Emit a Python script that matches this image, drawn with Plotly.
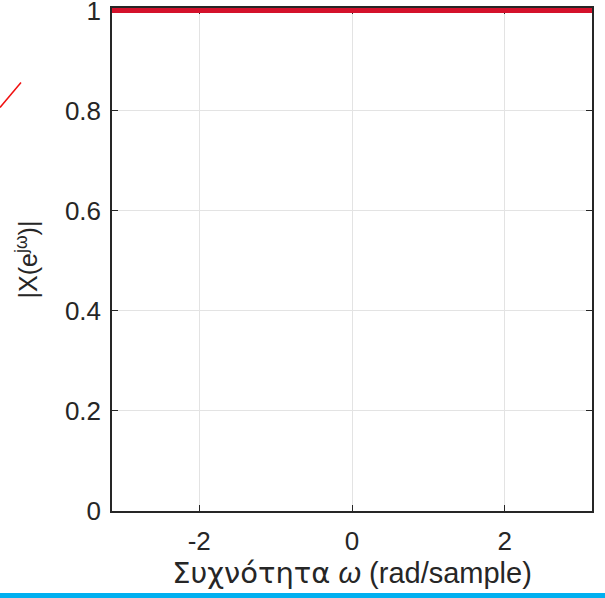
import numpy as np
import plotly.graph_objects as go

# Magnitude response of a unit impulse: flat at 1 across -pi..pi
omega = [-np.pi, np.pi]
magnitude = [1.0, 1.0]

x_ticks = [-2, 0, 2]
y_ticks = [0, 0.2, 0.4, 0.6, 0.8, 1]
y_tick_text = ["0", "0.2", "0.4", "0.6", "0.8", "1"]

W, H = 605, 598
ML, MR, MT, MB = 112, 13, 7.5, 87
PW, PH = W - ML - MR, H - MT - MB
# small headroom so the thick trace at 1 is not clipped by the frame
Y_TOP = 1.005

FONT = "Liberation Sans, Arial, sans-serif"
AX = "#262626"

fig = go.Figure()
fig.add_trace(go.Scatter(
    x=omega, y=magnitude, mode="lines",
    line=dict(color="#d4112b", width=5),
    showlegend=False,
))


def px_to_paper(px, py):
    return (px - ML) / PW, (H - MB - py) / PH


# stray pen stroke at the upper left and the slide's blue footer rule
x0, y0 = px_to_paper(0, 107)
x1, y1 = px_to_paper(21, 82)
fig.add_shape(type="line", xref="paper", yref="paper", x0=x0, y0=y0, x1=x1, y1=y1,
              line=dict(color="#f01010", width=1.5))
bx0, by0 = px_to_paper(0, 598)
bx1, by1 = px_to_paper(W, 593)
fig.add_shape(type="rect", xref="paper", yref="paper", x0=bx0, y0=by0, x1=bx1, y1=by1,
              line=dict(width=0), fillcolor="#00b0f0", layer="above")

x_title = ('<span style="font-family:DejaVu Sans">Συχνότητα</span> '
           '<i>ω</i> (rad/sample)')

fig.update_layout(
    width=W, height=H,
    margin=dict(l=ML, r=MR, t=MT, b=MB, autoexpand=False),
    paper_bgcolor="white", plot_bgcolor="white",
    font=dict(family=FONT, size=26, color=AX),
    xaxis=dict(
        range=[-np.pi, np.pi], tickvals=x_ticks, ticktext=[str(v) for v in x_ticks],
        showgrid=True, gridcolor="#e3e3e3", gridwidth=1,
        showline=True, linecolor=AX, linewidth=1.5, mirror="ticks",
        ticks="inside", ticklen=6, tickcolor=AX, tickwidth=1,
        zeroline=False, ticklabelstandoff=6, layer="below traces",
        automargin=False,
        title=dict(text=x_title, standoff=7, font=dict(size=29)),
        tickfont=dict(size=26),
    ),
    yaxis=dict(
        range=[0, Y_TOP], tickvals=y_ticks, ticktext=y_tick_text,
        showgrid=True, gridcolor="#e3e3e3", gridwidth=1,
        showline=True, linecolor=AX, linewidth=1.5, mirror="ticks",
        ticks="inside", ticklen=6, tickcolor=AX, tickwidth=1,
        zeroline=False, ticklabelstandoff=4, layer="below traces",
        ticklabeloverflow="allow", automargin=False,
        title=dict(text="|X(e<sup>jω</sup>)|", standoff=20, font=dict(size=25)),
        tickfont=dict(size=26),
    ),
)

fig.write_html("out.html")
